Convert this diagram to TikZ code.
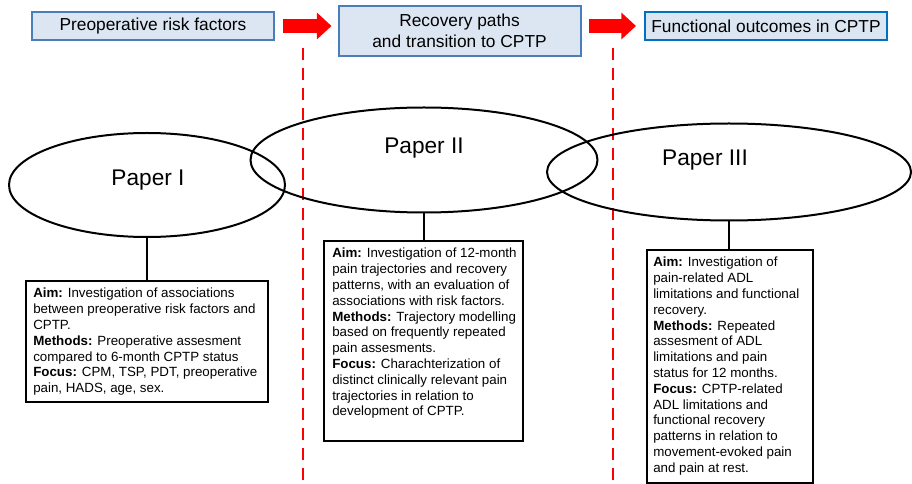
\documentclass[tikz,border=0pt]{standalone}
\usepackage{fontspec}
\setmainfont{Liberation Sans}
\usetikzlibrary{arrows.meta,positioning,shapes.geometric}
\definecolor{stagefill}{HTML}{DCE6F2}
\definecolor{stageline}{HTML}{4A7EBB}
\definecolor{stageblue}{HTML}{0070C0}

\begin{document}
\begin{tikzpicture}[x=0.75pt,y=-0.75pt]
  \tikzset{stage/.style={draw=stageline,line width=1.5pt,fill=stagefill,inner sep=0pt,minimum width=181.5pt,minimum height=21pt,align=center,font=\fontsize{13}{15.5}\selectfont}}
  \tikzset{flow/.style={-{Triangle[length=11pt,width=19.5pt]},red,line width=10pt}}
  \tikzset{border/.style={red,line width=2pt,dash pattern=on 9pt off 6pt}}
  \tikzset{paper/.style={draw,ellipse,line width=1.5pt,inner sep=0pt}}
  \tikzset{papername/.style={font=\fontsize{17}{20}\selectfont}}
  \tikzset{infobox/.style={draw,line width=1.5pt,inner sep=0pt}}
  \tikzset{infotext/.style={anchor=north west,align=left,inner sep=0pt,font=\fontsize{10}{11.85}\selectfont}}
  \useasboundingbox (0,0) rectangle (912,484);

  % stages along the top
  \node[stage] (pre) at (153,26) {Preoperative risk factors};
  \node[stage,minimum height=37.5pt] (rec) at (459.5,31) {Recovery paths\\and transition to CPTP};
  \node[stage,draw=stageblue] (out) at (766,26) {Functional outcomes in CPTP};
  \draw[flow,shorten <=6pt,shorten >=4.5pt] (pre.east) -- (pre.east -| rec.west);
  \draw[flow,shorten <=5.25pt,shorten >=6pt] (rec.east |- out.west) -- (out.west);

  % borders between the stages
  \coordinate (cut1top) at (303,48);
  \coordinate (cut1bot) at (303,484);
  \coordinate (cut2top) at (613,48);
  \coordinate (cut2bot) at (613,484);
  \draw[border] (cut1top) -- (cut1bot);
  \draw[border] (cut2top) -- (cut2bot);

  % papers
  \node[paper,minimum width=207pt,minimum height=78pt] (p1) at (147,185) {};
  \node[paper,minimum width=260.25pt,minimum height=78.75pt] (p2) at (424,160) {};
  \node[paper,minimum width=273pt,minimum height=72.75pt] (p3) at (729,172) {};
  \node[papername] (p1name) at (148,180) {Paper I};
  \node[papername] (p2name) at (424,148) {Paper II};
  \node[papername] (p3name) at (705,160) {Paper III};

  % descriptions
  \node[infobox,minimum width=181.5pt,minimum height=90.75pt] (b1) at (147,341.5) {};
  \node[infobox,minimum width=149.25pt,minimum height=150pt] (b2) at (423.5,341) {};
  \node[infobox,minimum width=124.5pt,minimum height=174.75pt] (b3) at (730,366.5) {};
  \node[infotext] (t1) at (33,288) {\textbf{Aim:} Investigation of associations\\between preoperative risk factors and\\CPTP.\\\textbf{Methods:} Preoperative assesment\\compared to 6-month CPTP status\\\textbf{Focus:} CPM, TSP, PDT, preoperative\\pain, HADS, age, sex.};
  \node[infotext] (t2) at (332,248) {\textbf{Aim:} Investigation of 12-month\\pain trajectories and recovery\\patterns, with an evaluation of\\associations with risk factors.\\\textbf{Methods:} Trajectory modelling\\based on frequently repeated\\pain assesments.\\\textbf{Focus:} Charachterization of\\distinct clinically relevant pain\\trajectories in relation to\\development of CPTP.};
  \node[infotext] (t3) at (653,257) {\textbf{Aim:} Investigation of\\pain-related ADL\\limitations and functional\\recovery.\\\textbf{Methods:} Repeated\\assesment of ADL\\limitations and pain\\status for 12 months.\\\textbf{Focus:} CPTP-related\\ADL limitations and\\functional recovery\\patterns in relation to\\movement-evoked pain\\and pain at rest.};

  \draw[line width=1.5pt] (p1.south) -- (p1.south |- b1.north);
  \draw[line width=1.5pt] (p2.south) -- (p2.south |- b2.north);
  \draw[line width=1.5pt] (p3.south) -- (p3.south |- b3.north);
\end{tikzpicture}
\end{document}
